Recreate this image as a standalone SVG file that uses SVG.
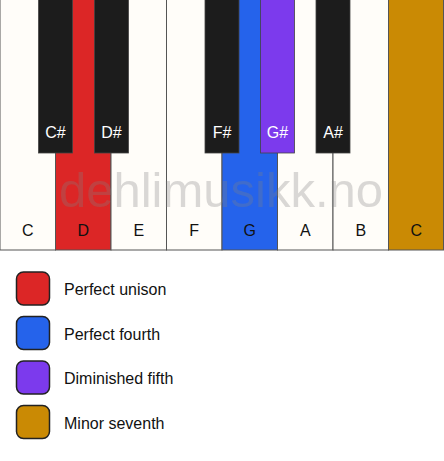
<svg xmlns="http://www.w3.org/2000/svg" width="444" height="461" viewBox="0 0 444 461">
<style>
.w{fill:#fffdf9;stroke:#555;stroke-width:1}
.b{fill:#1c1c1c;stroke:#444;stroke-width:0.8}
.lw{font-family:"Liberation Sans",Arial,sans-serif;font-size:16px;fill:#111;text-anchor:middle}
.lb{font-family:"Liberation Sans",Arial,sans-serif;font-size:16px;fill:#fff;text-anchor:middle}
.sw{stroke:#222;stroke-width:1.5}
.lt{font-family:"Liberation Sans",Arial,sans-serif;font-size:16px;fill:#111}
</style>
<rect width="444" height="461" fill="#fff"/>
<g id="white-keys">
<g id="key-C"><rect class="w" x="0" y="-1" width="55.5" height="251"/><text class="lw" x="27.75" y="236">C</text></g>
<g id="key-D"><rect class="w" x="55.5" y="-1" width="55.5" height="251" style="fill:#dc2626"/><text class="lw" x="83.25" y="236">D</text></g>
<g id="key-E"><rect class="w" x="111" y="-1" width="55.5" height="251"/><text class="lw" x="138.75" y="236">E</text></g>
<g id="key-F"><rect class="w" x="166.5" y="-1" width="55.5" height="251"/><text class="lw" x="194.25" y="236">F</text></g>
<g id="key-G"><rect class="w" x="222" y="-1" width="55.5" height="251" style="fill:#2563eb"/><text class="lw" x="249.75" y="236">G</text></g>
<g id="key-A"><rect class="w" x="277.5" y="-1" width="55.5" height="251"/><text class="lw" x="305.25" y="236">A</text></g>
<g id="key-B"><rect class="w" x="333" y="-1" width="55.5" height="251"/><text class="lw" x="360.75" y="236">B</text></g>
<g id="key-C2"><rect class="w" x="388.5" y="-1" width="55" height="251" style="fill:#ca8a04"/><text class="lw" x="416.25" y="236">C</text></g>
</g>
<text x="221" y="207" font-family="'Liberation Sans',Arial,sans-serif" font-size="49" fill="#808080" fill-opacity="0.3" text-anchor="middle">dehlimusikk.no</text>
<g id="black-keys">
<g id="key-Cs"><rect class="b" x="38.5" y="-1" width="34" height="154"/><text class="lb" x="55.5" y="138">C#</text></g>
<g id="key-Ds"><rect class="b" x="94.5" y="-1" width="34" height="154"/><text class="lb" x="111.5" y="138">D#</text></g>
<g id="key-Fs"><rect class="b" x="205" y="-1" width="34" height="154"/><text class="lb" x="222" y="138">F#</text></g>
<g id="key-Gs"><rect class="b" x="260.5" y="-1" width="34" height="154" style="fill:#7c3aed"/><text class="lb" x="277.5" y="138">G#</text></g>
<g id="key-As"><rect class="b" x="316" y="-1" width="34" height="154"/><text class="lb" x="333" y="138">A#</text></g>
</g>
<g id="legend">
<g id="leg-unison"><rect class="sw" x="16.5" y="272" width="33" height="33" rx="7" fill="#dc2626"/><text class="lt" x="64" y="295">Perfect unison</text></g>
<g id="leg-fourth"><rect class="sw" x="16.5" y="316.5" width="33" height="33" rx="7" fill="#2563eb"/><text class="lt" x="64" y="339.5">Perfect fourth</text></g>
<g id="leg-fifth"><rect class="sw" x="16.5" y="361" width="33" height="33" rx="7" fill="#7c3aed"/><text class="lt" x="64" y="384">Diminished fifth</text></g>
<g id="leg-seventh"><rect class="sw" x="16.5" y="405.5" width="33" height="33" rx="7" fill="#ca8a04"/><text class="lt" x="64" y="428.5">Minor seventh</text></g>
</g>
<g id="connectors"/>
</svg>
